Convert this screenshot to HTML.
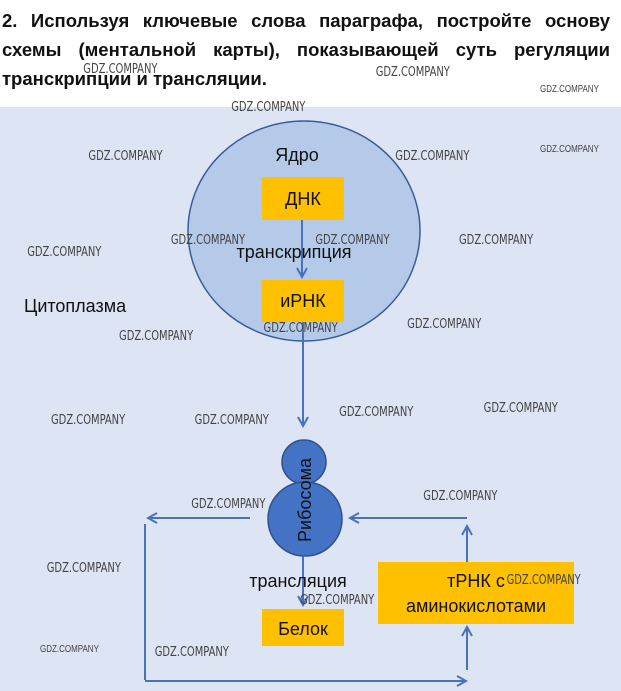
<!DOCTYPE html>
<html><head><meta charset="utf-8"><style>
html,body{margin:0;padding:0;background:#fff;}
body{width:621px;height:691px;overflow:hidden;position:relative;font-family:"Liberation Sans",sans-serif;}
.t{position:absolute;left:2px;width:608px;font-weight:bold;font-size:18.5px;line-height:29px;text-align:justify;text-align-last:justify;color:#111;white-space:nowrap;}
</style></head><body>
<div class="t" style="top:6px;">2. Используя ключевые слова параграфа, постройте основу</div>
<div class="t" style="top:35px;">схемы (ментальной карты), показывающей суть регуляции</div>
<div class="t" style="top:64px;text-align-last:left;">транскрипции и трансляции.</div>
<svg width="621" height="691" style="position:absolute;left:0;top:0" xmlns="http://www.w3.org/2000/svg" font-family="Liberation Sans, sans-serif">
<defs><marker id="a" markerWidth="12" markerHeight="12" refX="10" refY="6" orient="auto" markerUnits="userSpaceOnUse"><path d="M1,1 L10,6 L1,11" fill="none" stroke="#4a72b8" stroke-width="2"/></marker></defs>
<rect x="0" y="107" width="621" height="584" fill="#dde4f4"/>
<ellipse cx="304" cy="231" rx="116" ry="110" fill="#b5c9e8" stroke="#3b5c98" stroke-width="1.5"/>
<text x="297" y="161" font-size="18" text-anchor="middle" fill="#111">Ядро</text>
<rect x="262" y="177" width="82" height="43" fill="#ffc000"/>
<text x="303" y="205" font-size="18" text-anchor="middle" fill="#111">ДНК</text>
<line x1="302" y1="220" x2="302" y2="277" stroke="#4a72b8" stroke-width="2" marker-end="url(#a)"/>
<text x="294" y="258" font-size="18" text-anchor="middle" fill="#111">транскрипция</text>
<rect x="262" y="280" width="82" height="42" fill="#ffc000"/>
<text x="303" y="307" font-size="18" text-anchor="middle" fill="#111">иРНК</text>
<line x1="303" y1="322" x2="303" y2="426" stroke="#4a72b8" stroke-width="2" marker-end="url(#a)"/>
<text x="24" y="312" font-size="18" fill="#111">Цитоплазма</text>
<circle cx="304" cy="462" r="22" fill="#4472c4" stroke="#2f528f" stroke-width="1.5"/>
<circle cx="305" cy="519" r="37" fill="#4472c4" stroke="#2f528f" stroke-width="1.5"/>
<text transform="translate(311,500) rotate(-90)" font-size="18" text-anchor="middle" fill="#111">Рибосома</text>
<line x1="303" y1="556" x2="303" y2="605" stroke="#4a72b8" stroke-width="2" marker-end="url(#a)"/>
<text x="298" y="587" font-size="18" text-anchor="middle" fill="#111">трансляция</text>
<rect x="262" y="609" width="82" height="37" fill="#ffc000"/>
<text x="303" y="635" font-size="18" text-anchor="middle" fill="#111">Белок</text>
<rect x="378" y="562" width="196" height="62" fill="#ffc000"/>
<text x="476" y="587" font-size="18" text-anchor="middle" fill="#111">тРНК с</text>
<text x="476" y="612" font-size="18" text-anchor="middle" fill="#111">аминокислотами</text>
<line x1="250" y1="518" x2="148" y2="518" stroke="#4a72b8" stroke-width="2" marker-end="url(#a)"/>
<line x1="145" y1="524" x2="145" y2="680" stroke="#4a72b8" stroke-width="2"/>
<line x1="145" y1="681" x2="466" y2="681" stroke="#4a72b8" stroke-width="2" marker-end="url(#a)"/>
<line x1="467" y1="670" x2="467" y2="627" stroke="#4a72b8" stroke-width="2" marker-end="url(#a)"/>
<line x1="467" y1="562" x2="467" y2="526" stroke="#4a72b8" stroke-width="2" marker-end="url(#a)"/>
<line x1="467" y1="518" x2="350" y2="518" stroke="#4a72b8" stroke-width="2" marker-end="url(#a)"/>
<g font-size="13" fill="#444" font-family="DejaVu Sans Condensed, Liberation Sans Narrow, sans-serif" transform="scale(0.85,1)">
<text x="98" y="73">GDZ.COMPANY</text><text x="442" y="76">GDZ.COMPANY</text>
<text x="272" y="111">GDZ.COMPANY</text><text x="104" y="160">GDZ.COMPANY</text>
<text x="465" y="160">GDZ.COMPANY</text><text x="32" y="256">GDZ.COMPANY</text>
<text x="201" y="244">GDZ.COMPANY</text><text x="371" y="244">GDZ.COMPANY</text>
<text x="540" y="244">GDZ.COMPANY</text><text x="140" y="340">GDZ.COMPANY</text>
<text x="310" y="332">GDZ.COMPANY</text><text x="479" y="328">GDZ.COMPANY</text>
<text x="60" y="424">GDZ.COMPANY</text><text x="229" y="424">GDZ.COMPANY</text>
<text x="399" y="416">GDZ.COMPANY</text><text x="569" y="412">GDZ.COMPANY</text>
<text x="225" y="508">GDZ.COMPANY</text><text x="498" y="500">GDZ.COMPANY</text>
<text x="55" y="572">GDZ.COMPANY</text><text x="596" y="584">GDZ.COMPANY</text>
<text x="353" y="604">GDZ.COMPANY</text><text x="182" y="656">GDZ.COMPANY</text>
</g>
<g font-size="10" fill="#444" transform="scale(0.8,1)"><text x="675" y="92">GDZ.COMPANY</text><text x="675" y="152">GDZ.COMPANY</text><text x="50" y="652">GDZ.COMPANY</text></g>
</svg>
</body></html>
